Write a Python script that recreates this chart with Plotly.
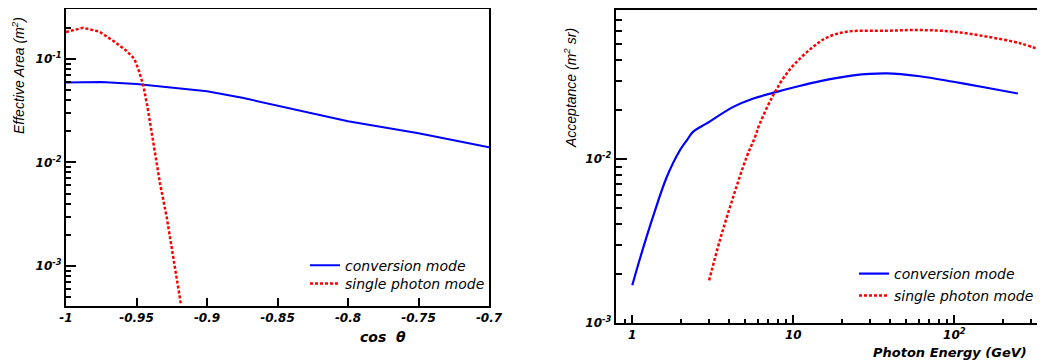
import plotly.graph_objects as go

# ---------------- data ----------------
# Left panel: effective area vs cos(theta)
cos_conv = [-1.0, -0.975, -0.95, -0.925, -0.9, -0.875, -0.85, -0.825, -0.8, -0.775, -0.75, -0.725, -0.7]
area_conv = [0.059, 0.0598, 0.057, 0.053, 0.0485, 0.042, 0.0353, 0.0298, 0.025, 0.0218, 0.0191, 0.0164, 0.014]

cos_single = [-1.0, -0.988, -0.9764, -0.9669, -0.9574, -0.9515, -0.948, -0.9452, -0.942, -0.9392,
              -0.9367, -0.9333, -0.9286, -0.9239, -0.9184]
area_single = [0.181, 0.199, 0.183, 0.150, 0.120, 0.100, 0.0745, 0.0554, 0.033, 0.0197,
               0.0113, 0.00624, 0.00298, 0.00123, 0.00042]

# Right panel: acceptance vs photon energy
e_conv = [1.0, 1.12, 1.35, 1.64, 1.98, 2.18, 2.39, 2.9, 4.24, 5.65, 7.9, 10, 14.7, 23.6, 38, 61, 98.6, 159, 248]
acc_conv = [0.0017, 0.0025, 0.0045, 0.0078, 0.01135, 0.013, 0.0147, 0.0165, 0.0208, 0.0234, 0.0257,
            0.0273, 0.0299, 0.0324, 0.0333, 0.032, 0.0296, 0.0272, 0.0251]

e_single = [3.0, 3.5, 4.24, 5.13, 5.78, 6.2, 7.5, 9.1, 11, 13.3, 16.1, 21.5, 38, 61, 98.6, 159, 256, 366]
acc_single = [0.00182, 0.0032, 0.0059, 0.0103, 0.0136, 0.0165, 0.0245, 0.0333, 0.041, 0.0484, 0.055,
              0.0598, 0.0606, 0.0612, 0.0598, 0.0558, 0.0508, 0.0452]

# ticks
left_x_ticks = [-1.0, -0.95, -0.9, -0.85, -0.8, -0.75, -0.7]
left_x_labels = ["-1", "-0.95", "-0.9", "-0.85", "-0.8", "-0.75", "-0.7"]
left_y_ticks = [1e-3, 1e-2, 1e-1]
left_y_labels = ["10<sup>-3</sup>", "10<sup>-2</sup>", "10<sup>-1</sup>"]
right_x_ticks = [1, 10, 100]
right_x_labels = ["1", "10", "10<sup>2</sup>"]
right_y_ticks = [1e-3, 1e-2]
right_y_labels = ["10<sup>-3</sup>", "10<sup>-2</sup>"]

names = ["conversion mode", "single photon mode"]

# ---------------- layout helpers ----------------
# The page body has an 8px margin, so the figure is offset by 8px;
# positions below are given in window pixels and converted.
OFF = 8
WIN_W, WIN_H = 1045, 364
W, H = WIN_W - OFF, WIN_H - OFF


def px(x):
    return (x - OFF) / W


def py(y):
    return 1 - (y - OFF) / H


BLUE = "rgb(0,0,255)"
RED = "rgb(255,0,0)"

left_y_minor = [m * 10.0 ** p for p in (-4, -3, -2, -1) for m in range(2, 10) if 4e-4 <= m * 10.0 ** p <= 0.3]
right_x_minor = [0.9] + [m * 10.0 ** p for p in (0, 1, 2) for m in range(2, 10) if m * 10.0 ** p <= 366]
right_y_minor = [m * 10.0 ** p for p in (-3, -2) for m in range(2, 10) if m * 10.0 ** p <= 0.081]

fig = go.Figure()
fig.add_trace(go.Scatter(x=cos_conv, y=area_conv, mode="lines", name=names[0], showlegend=True,
                         line=dict(color=BLUE, width=2), xaxis="x", yaxis="y", legend="legend"))
fig.add_trace(go.Scatter(x=cos_single, y=area_single, mode="lines", name=names[1], showlegend=True,
                         line=dict(color=RED, width=2.5, dash="3px,2px"), xaxis="x", yaxis="y",
                         legend="legend2"))
fig.add_trace(go.Scatter(x=e_conv, y=acc_conv, mode="lines", name=names[0], line_shape="spline",
                         showlegend=True,
                         line=dict(color=BLUE, width=2.2), xaxis="x2", yaxis="y2", legend="legend3"))
fig.add_trace(go.Scatter(x=e_single, y=acc_single, mode="lines", name=names[1], line_shape="spline",
                         showlegend=True,
                         line=dict(color=RED, width=2.5, dash="3px,2px"), xaxis="x2", yaxis="y2",
                         legend="legend4"))
# empty traces so that the minor-tick overlay axes get drawn
fig.add_trace(go.Scatter(x=[], y=[], xaxis="x", yaxis="y3", showlegend=False, hoverinfo="skip"))
fig.add_trace(go.Scatter(x=[], y=[], xaxis="x3", yaxis="y4", showlegend=False, hoverinfo="skip"))

tickfont = dict(family="DejaVu Sans", size=12, color="black", weight="bold", style="italic")
axis_common = dict(showgrid=False, zeroline=False, showline=True, linecolor="black", linewidth=2,
                   ticks="inside", tickcolor="black", tickwidth=2, tickfont=tickfont,
                   tickmode="array", automargin=False)
minor_common = dict(showgrid=False, zeroline=False, showline=False, ticks="inside", tickcolor="black",
                    tickwidth=2, showticklabels=False, tickmode="array", automargin=False)

# plot-area boxes (window pixels)
L_X0, L_X1, L_Y0, L_Y1 = 66, 489, 9, 306
R_X0, R_Y0, R_Y1 = 615.7, 10, 323

L_YRANGE = [-3.385, -0.52]
R_XRANGE = [-0.103, 2.563]
R_YRANGE = [-3.0, -1.091]


def legend_box(x, y):
    return dict(x=px(x), y=py(y), xanchor="left", yanchor="middle", bgcolor="rgba(0,0,0,0)",
                font=dict(family="DejaVu Sans", size=14, style="italic", color="black"),
                itemclick=False, borderwidth=0, visible=True)


fig.update_layout(
    width=W, height=H,
    showlegend=True,
    margin=dict(l=0, r=0, t=0, b=0),
    paper_bgcolor="white", plot_bgcolor="white",
    xaxis=dict(axis_common, domain=[px(L_X0), px(L_X1)], range=[-1.0, -0.7], anchor="y",
               tickvals=left_x_ticks, ticktext=left_x_labels, ticklen=8, mirror=True),
    yaxis=dict(axis_common, domain=[py(L_Y1), py(L_Y0)], type="log", range=L_YRANGE,
               anchor="x", tickvals=left_y_ticks, ticktext=left_y_labels, ticklen=10, mirror=True),
    yaxis3=dict(minor_common, overlaying="y", anchor="x", side="left", type="log", range=L_YRANGE,
                tickvals=left_y_minor, ticklen=5),
    xaxis2=dict(axis_common, domain=[px(R_X0), 1.0], type="log", range=R_XRANGE, anchor="y2",
                tickvals=right_x_ticks, ticktext=right_x_labels, ticklen=8, mirror=True,
                ticklabelstandoff=0),
    xaxis3=dict(minor_common, overlaying="x2", anchor="y2", side="bottom", type="log", range=R_XRANGE,
                tickvals=right_x_minor, ticklen=4),
    yaxis2=dict(axis_common, domain=[py(R_Y1), py(R_Y0)], type="log", range=R_YRANGE,
                anchor="x2", tickvals=right_y_ticks, ticktext=right_y_labels, ticklen=11, mirror=False),
    yaxis4=dict(minor_common, overlaying="y2", anchor="x2", side="left", type="log", range=R_YRANGE,
                tickvals=right_y_minor, ticklen=6),
    legend=legend_box(305, 265.7),
    legend2=legend_box(305, 284),
    legend3=legend_box(854, 274),
    legend4=legend_box(854, 296),
    annotations=[
        dict(text="Effective Area (m<sup>2</sup>)", textangle=-90, xref="paper", yref="paper",
             x=px(18), y=py(76), showarrow=False, xanchor="center", yanchor="middle",
             font=dict(family="Liberation Sans", size=14, style="italic", color="black")),
        dict(text="cos  θ", xref="paper", yref="paper", x=px(383), y=py(337), showarrow=False,
             xanchor="center", yanchor="middle",
             font=dict(family="DejaVu Sans", size=14, weight="bold", style="italic", color="black")),
        dict(text="Acceptance (m<sup>2</sup> sr)", textangle=-90, xref="paper", yref="paper",
             x=px(570), y=py(88), showarrow=False, xanchor="center", yanchor="middle",
             font=dict(family="Liberation Sans", size=14, style="italic", color="black")),
        dict(text="Photon Energy (GeV)", xref="paper", yref="paper", x=px(871), y=py(352),
             showarrow=False, xanchor="left", yanchor="middle",
             font=dict(family="DejaVu Sans", size=13, weight="bold", style="italic", color="black")),
    ],
)

fig.write_html("out.html")
